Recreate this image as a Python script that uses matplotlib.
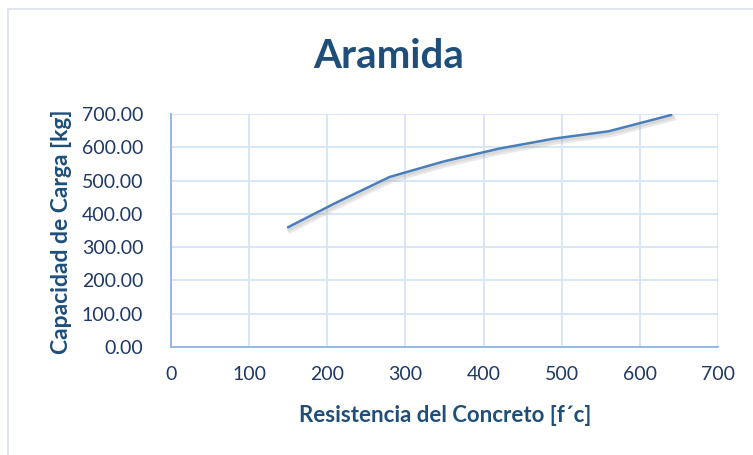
import matplotlib
matplotlib.use("Agg")
import matplotlib.pyplot as plt
import matplotlib.patheffects as pe
from matplotlib.patches import Rectangle

# Data
resistencia = [150, 210, 280, 350, 420, 490, 560, 640]
capacidad = [360, 432, 511, 558, 596, 626, 648, 697]
x_ticks = [0, 100, 200, 300, 400, 500, 600, 700]
y_ticks = [0, 100, 200, 300, 400, 500, 600, 700]
title = "Aramida"
x_label = "Resistencia del Concreto [f´c]"
y_label = "Capacidad de Carga [kg]"

W, H = 753, 455
fig = plt.figure(figsize=(W / 100, H / 100), dpi=100)
fig.patch.set_facecolor("white")
plt.rcParams['font.family'] = ['Lato', 'DejaVu Sans']

text_color = "#1F4E79"
tick_color = "#1F3864"

# outer chart border
fig.add_artist(Rectangle((8 / W, -0.05), 1.2, 1 - 9 / H + 0.05, transform=fig.transFigure,
                         fill=False, edgecolor="#D9E2EE", linewidth=1.2))

ax = fig.add_axes([171 / W, 1 - 347 / H, (718 - 171) / W, (347 - 114) / H])
ax.plot(resistencia, capacidad, color="#4A7EBB", linewidth=1.8, solid_joinstyle="round",
        path_effects=[pe.SimpleLineShadow(offset=(1.5, -2.5), shadow_color="#9A9A9A", alpha=0.22, linewidth=3.5),
                      pe.SimpleLineShadow(offset=(1, -1.5), shadow_color="#9A9A9A", alpha=0.18, linewidth=2.5),
                      pe.Normal()], zorder=3)

ax.set_xlim(0, 700)
ax.set_ylim(0, 700)
ax.set_xticks(x_ticks)
ax.set_yticks(y_ticks)
ax.set_xticklabels([str(v) for v in x_ticks])
ax.set_yticklabels([f"{v:.2f}" for v in y_ticks])
ax.grid(True, color="#D6E4F5", linewidth=1.3)
ax.set_axisbelow(True)
for s in ["top", "right"]:
    ax.spines[s].set_visible(False)
for s in ["left", "bottom"]:
    ax.spines[s].set_color("#8EB4E3")
    ax.spines[s].set_linewidth(1.3)
ax.tick_params(length=0, labelsize=14, colors=tick_color, pad=8)
ax.tick_params(axis="x", pad=14)
ax.tick_params(axis="y", pad=20)

fig.text(389 / W, 1 - 57 / H, title, ha="center", va="center", fontsize=29,
         fontweight="bold", color=text_color)
fig.text(445 / W, 1 - 416 / H, x_label, ha="center", va="center", fontsize=16,
         fontweight="bold", color=text_color)
fig.text(62 / W, 1 - 232 / H, y_label, ha="center", va="center", fontsize=16.5,
         fontweight="bold", color=text_color, rotation=90)

fig.savefig("out.png", dpi=100)
